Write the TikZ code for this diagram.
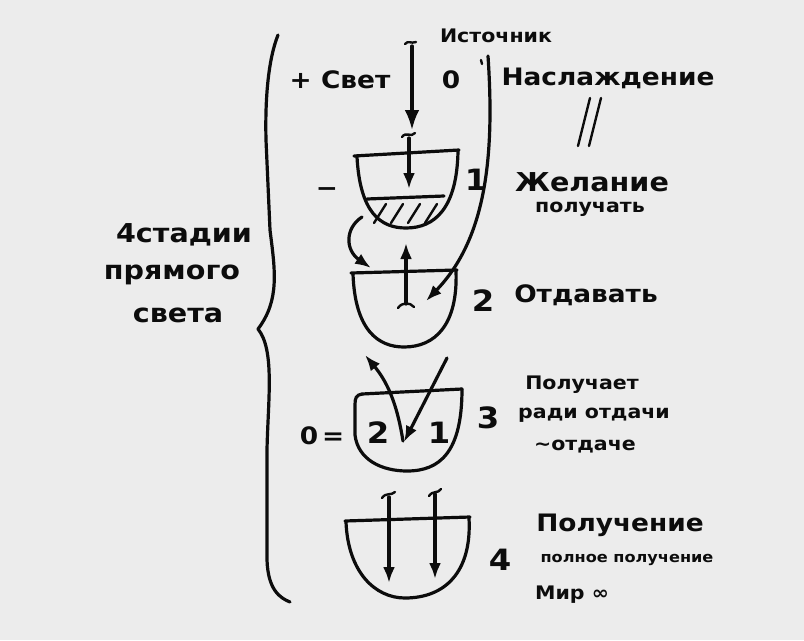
\documentclass[tikz,border=0pt]{standalone}
\usepackage{fontspec}
\setmainfont[FakeStretch=1.1]{DejaVu Sans}
\usetikzlibrary{arrows.meta}
\definecolor{bg}{RGB}{236,236,236}
\definecolor{ink}{RGB}{12,12,12}
\begin{document}
\begin{tikzpicture}[x=0.75pt,y=-0.75pt,
  ink/.style={draw=ink,line width=2.4pt,line cap=round,line join=round},
  thinink/.style={draw=ink,line width=1.8pt,line cap=round,line join=round},
  arr/.style={ink,-{Latex[length=12pt,width=9pt]}},
  bigarr/.style={ink,-{Latex[length=15pt,width=11pt]}},
  txt/.style={inner sep=0pt,text=ink,font=\bfseries\fontsize{18}{20}\selectfont},
  big/.style={inner sep=0pt,text=ink,font=\bfseries\fontsize{19.5}{22}\selectfont},
  mid/.style={inner sep=0pt,text=ink,font=\bfseries\fontsize{14}{16}\selectfont},
  small/.style={inner sep=0pt,text=ink,font=\bfseries\fontsize{11}{13}\selectfont},
  num/.style={inner sep=0pt,text=ink,font=\bfseries\fontsize{22}{24}\selectfont}]
\useasboundingbox[fill=bg] (0,0) rectangle (804,640);

% brace
\draw[ink] (278,35) .. controls (268,60) and (265,100) .. (266,140) -- (270,230)
  .. controls (275,270) and (280,300) .. (258,329)
  .. controls (275,350) and (268,400) .. (267,450) -- (267,560)
  .. controls (268,590) and (280,598) .. (290,602);

% left label
\node[big] (st1) at (184,235) {4стадии};
\node[big] (st2) at (172,275) {прямого};
\node[big] (st3) at (178,315) {света};

% top row
\node[mid] (src) at (496,36) {Источник};
\node[txt] (svet) at (340,80) {+ Свет};
\node[txt] (zero) at (451,80) {0};
\node[txt] (nasl) at (608,78) {Наслаждение};
\draw[thinink] (590,98) -- (578,146);
\draw[thinink] (601,98) -- (589,146);

% source arrow
\coordinate (srcTop) at (412,46);
\coordinate (srcTip) at (412,130);
\draw[thinink] (405,44) .. controls (408,40) and (411,44) .. (416,42);
\draw[bigarr] (srcTop) -- (srcTip);

% long curve to bowl 2
\coordinate (lcTop) at (488,56);
\coordinate (lcTip) at (426,301);
\draw[thinink] (481,60) -- (482,64);
\draw[arr] (lcTop) .. controls (495,160) and (485,240) .. (lcTip);

% bowl 1
\draw[ink] (354,156) -- (459,150);
\draw[ink] (357,157) .. controls (360,212) and (380,228) .. (406,228)
  .. controls (435,228) and (457,208) .. (458,151);
\draw[ink] (367,199) -- (444,196);
\foreach \xx in {374,391,408,425}
  \draw[thinink] (\xx,223) -- (\xx+12,204);
\draw[thinink] (402,137) .. controls (406,131) and (411,138) .. (415,133);
\coordinate (b1a) at (409,138);
\coordinate (b1b) at (409,189);
\draw[arr] (b1a) -- (b1b);
\node[txt] (minus) at (327,192) {−};
\node[num] (n1) at (476,180) {1};
\node[big] (zhel) at (592,182) {Желание};
\node[mid] (pol) at (590,209) {получать};

% curved arrow bowl1 -> bowl2
\coordinate (cA) at (362,217);
\coordinate (cB) at (371,268);
\draw[arr] (cA) .. controls (345,228) and (345,250) .. (cB);

% bowl 2
\draw[ink] (351,273) -- (457,270);
\draw[ink] (353,274) .. controls (355,330) and (378,347) .. (404,347)
  .. controls (435,347) and (458,325) .. (456,271);
\coordinate (b2a) at (406,304);
\coordinate (b2b) at (406,243);
\draw[thinink] (398,308) .. controls (402,302) and (410,302) .. (414,307);
\draw[arr] (b2a) -- (b2b);
\node[num] (n2) at (483,301) {2};
\node[txt] (otd) at (586,295) {Отдавать};

% bowl 3
\draw[ink] (362,394) -- (462,389);
\draw[ink] (362,394) .. controls (356,395) and (355,398) .. (355,405) -- (355,435)
  .. controls (358,460) and (382,471) .. (407,471)
  .. controls (440,471) and (462,452) .. (462,389);
\coordinate (u1) at (403,441);
\coordinate (u2) at (365,355);
\draw[arr] (u1) .. controls (398,410) and (390,385) .. (u2);
\coordinate (d1) at (447,358);
\coordinate (d2) at (404,442);
\draw[arr] (d1) -- (d2);
\node[txt] (eq) at (322,436) {0\,=};
\node[num] (m2) at (378,433) {2};
\node[num] (m1) at (439,433) {1};
\node[num] (n3) at (488,418) {3};
\node[mid] (p3a) at (582,385) {Получает};
\node[mid] (p3b) at (594,415) {ради отдачи};
\node[mid] (p3c) at (585,447) {\char"223Cотдаче};

% bowl 4
\draw[ink] (345,521) -- (470,517);
\draw[ink] (346,522) .. controls (348,572) and (375,598) .. (405,598)
  .. controls (445,598) and (472,572) .. (469,518);
\draw[thinink] (382,498) .. controls (386,492) and (391,496) .. (395,492);
\draw[thinink] (429,496) .. controls (433,490) and (438,494) .. (441,489);
\coordinate (a4a) at (389,497);
\coordinate (a4b) at (389,583);
\coordinate (a4c) at (435,494);
\coordinate (a4d) at (435,579);
\draw[arr] (a4a) -- (a4b);
\draw[arr] (a4c) -- (a4d);
\node[num] (n4) at (500,560) {4};
\node[txt] (p4a) at (620,525) {Получение};
\node[small] (p4b) at (627,560) {полное получение};
\node[mid] (p4c) at (572,595) {Мир ∞};
\end{tikzpicture}
\end{document}
